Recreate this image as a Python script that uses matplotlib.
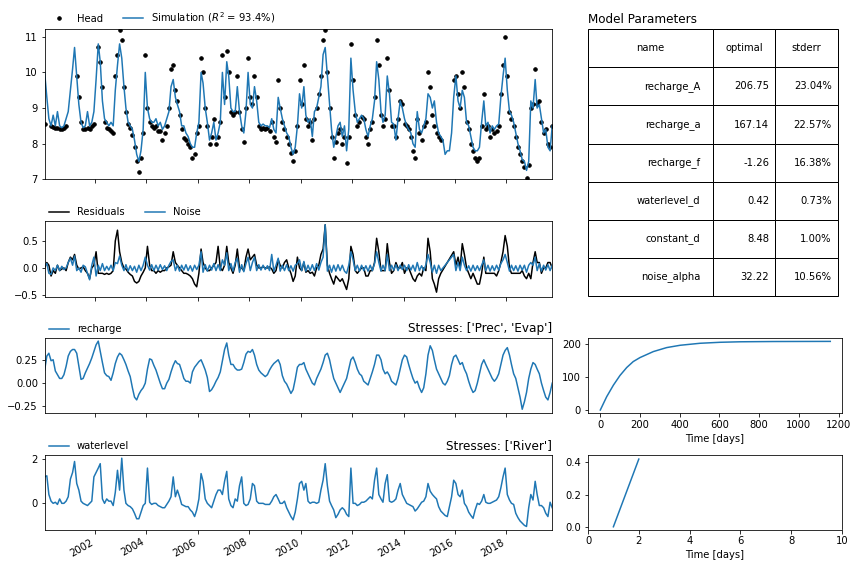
import numpy as np
import pandas as pd
import matplotlib
matplotlib.use("Agg")
import matplotlib.pyplot as plt
import matplotlib.dates as mdates

nan = np.nan

# monthly readings, Jan 2000 .. Oct 2019
dates = pd.date_range("2000-01-01", periods=238, freq="MS") + pd.Timedelta(days=14)

head = [
    8.55, nan, nan, 8.5, 8.48, 8.45, 8.45, 8.42, 8.4, 8.45, 8.5, nan,
    nan, nan, nan, 9.9, 9.3, 8.6, 8.4, 8.4, 8.45, 8.4, 8.5, 8.55,
    nan, 10.7, 10.3, 9.6, 8.6, 8.45, 8.4, 8.35, 8.3, 9.9, 10.5, 11.2,
    10.9, 9.6, 8.9, 8.55, 8.45, 8.25, 7.9, 7.5, 7.2, 7.6, 8.3, 10.5,
    9.0, 8.6, 8.5, 8.45, 8.5, 8.35, 8.35, 8.1, 8.3, 8.5, 9.0, 10.1,
    10.2, 9.5, 9.2, 8.8, 8.4, 8.15, 8.1, 8.0, 7.9, 7.6, 7.7, 8.3,
    8.5, 10.4, 10.0, 9.0, 8.5, 8.0, 8.2, 8.7, 8.0, 8.2, 8.6, 10.5,
    9.3, 10.6, 10.0, 8.9, 8.8, 8.9, 9.9, 8.9, 8.4, 8.05, 9.0, 10.4,
    9.3, 9.1, 9.9, 9.3, 8.5, 8.4, 8.45, 8.4, 8.45, 8.35, 8.6, 8.2,
    8.05, 9.8, 9.0, 8.6, 8.4, 8.2, 8.0, 7.75, 7.5, 7.8, 8.5, 9.8,
    9.1, 10.2, 8.7, 8.5, 8.6, 8.1, 8.7, 9.0, 9.4, 9.9, 10.9, 11.2,
    10.0, 9.0, 8.2, 7.6, 8.05, 8.3, 8.4, 8.0, 8.2, 7.45, 8.2, 10.8,
    9.8, 8.8, 8.5, 8.6, 8.75, 8.7, 8.2, 8.0, 8.4, 8.6, 9.3, 10.9,
    10.2, 8.8, 8.5, 8.7, 10.4, 9.5, 8.5, 8.5, 8.2, 8.7, 9.2, 9.1,
    8.55, 8.5, 8.4, 8.2, 7.8, 7.6, 8.7, 8.3, 8.1, 8.5, 8.6, 10.0,
    9.6, 8.8, 8.5, 8.3, 8.2, 8.1, nan, nan, nan, nan, nan, 9.8,
    9.9, 9.4, 9.0, 10.0, 9.6, 8.6, 8.4, 8.0, 7.8, 7.6, 7.5, 7.6,
    8.5, 9.4, 8.4, 8.5, 8.2, 8.4, 8.3, 8.35, 8.5, 9.4, 10.2, 11.0,
    9.9, 8.9, 8.7, 8.5, 8.2, 7.9, 7.7, 7.5, 7.35, 7.05, 7.4, 9.0,
    9.1, 10.1, 9.1, 9.2, 8.6, 8.3, 8.4, 8.0, 7.9, 8.5,
]

simulation = [
    10.0, 9.3, 8.7, 8.5, 8.8, 8.5, 8.9, 8.5, 8.45, 8.5, 8.7, 8.9,
    9.5, 10.1, 10.7, 9.9, 9.1, 8.6, 8.45, 8.5, 8.9, 8.5, 8.6, 8.9,
    9.8, 10.8, 10.3, 9.2, 8.7, 8.6, 8.5, 8.6, 8.5, 9.5, 10.2, 10.8,
    10.4, 9.6, 9.0, 8.6, 8.5, 8.4, 8.1, 7.7, 7.5, 7.8, 8.4, 10.0,
    9.0, 8.7, 8.6, 8.6, 8.7, 8.5, 8.6, 8.4, 8.5, 8.7, 8.9, 9.6,
    9.8, 9.3, 9.1, 8.9, 8.5, 8.5, 8.3, 8.2, 8.0, 7.9, 7.9, 8.3,
    8.6, 10.0, 9.7, 9.0, 8.6, 8.1, 8.3, 8.6, 8.1, 8.3, 8.6, 10.0,
    9.1, 10.3, 9.9, 9.0, 8.9, 8.9, 9.6, 8.9, 8.5, 8.3, 8.9, 10.0,
    9.1, 9.0, 9.6, 9.2, 8.6, 8.5, 8.55, 8.5, 8.5, 8.45, 8.7, 8.4,
    8.3, 9.3, 9.0, 8.7, 8.5, 8.3, 8.2, 7.9, 7.7, 7.9, 8.5, 9.4,
    9.0, 9.6, 8.8, 8.6, 8.7, 8.2, 8.9, 9.0, 9.3, 9.6, 10.5, 10.7,
    9.9, 9.1, 8.4, 7.9, 8.2, 8.5, 8.6, 8.2, 8.5, 7.8, 8.4, 10.4,
    9.5, 8.9, 8.6, 8.7, 8.8, 8.7, 8.4, 8.2, 8.5, 8.7, 9.2, 10.3,
    9.8, 8.9, 8.6, 8.8, 9.9, 9.4, 8.6, 8.55, 8.1, 8.7, 9.2, 9.0,
    8.7, 8.5, 8.4, 8.3, 8.0, 7.9, 8.9, 8.4, 8.3, 8.5, 8.7, 9.4,
    9.3, 9.0, 9.2, 8.6, 8.3, 8.2, 8.1, 7.7, 7.8, 7.8, 8.3, 9.3,
    9.9, 9.2, 9.0, 9.5, 9.3, 8.6, 8.5, 8.2, 7.9, 7.8, 7.8, 7.9,
    8.6, 9.2, 8.5, 8.6, 8.3, 8.5, 8.4, 8.5, 8.55, 9.3, 9.9, 10.4,
    9.5, 8.9, 8.8, 8.6, 8.3, 8.0, 7.8, 7.55, 7.5, 7.25, 7.5, 9.2,
    9.0, 9.8, 9.0, 9.1, 8.7, 8.3, 8.4, 7.9, 7.8, 8.5,
]

residuals = [
    0.0, 0.1, 0.05, -0.15, -0.05, -0.1, 0.05, -0.05, -0.02, 0.0, -0.05, 0.1,
    0.2, 0.15, 0.25, 0.05, -0.02, 0.0, 0.02, -0.05, -0.1, -0.2, 0.0, 0.05,
    0.3, -0.1, -0.1, -0.1, -0.12, -0.1, -0.12, -0.1, -0.05, 0.5, 0.7, 0.3,
    0.1, 0.0, -0.02, -0.08, -0.12, -0.15, -0.25, -0.28, -0.25, -0.15, -0.08, 0.0,
    0.4, 0.05, -0.05, -0.05, -0.1, -0.05, -0.08, -0.05, -0.05, 0.0, 0.02, 0.05,
    0.3, 0.1, 0.05, 0.0, -0.05, -0.1, -0.1, -0.12, -0.15, -0.2, -0.3, -0.35,
    -0.1, 0.35, 0.1, 0.0, -0.05, -0.05, 0.0, 0.05, 0.1, 0.4, 0.0, -0.05,
    0.05, 0.4, 0.1, 0.0, -0.1, 0.05, 0.35, 0.0, 0.0, -0.05, 0.2, 0.35,
    0.15, 0.2, 0.25, 0.05, 0.0, 0.0, 0.02, 0.0, 0.0, 0.02, -0.02, -0.1,
    -0.05, 0.15, 0.05, 0.0, 0.1, 0.15, 0.0, -0.1, -0.25, -0.15, 0.2, 0.0,
    -0.05, 0.1, -0.08, -0.05, -0.1, -0.08, -0.15, 0.0, 0.05, 0.25, 0.35, 0.8,
    0.05, -0.1, -0.2, -0.3, -0.15, -0.2, -0.25, -0.2, -0.3, -0.4, -0.2, 0.4,
    0.25, -0.05, -0.1, -0.05, 0.0, 0.0, -0.15, -0.15, -0.05, -0.05, 0.1, 0.55,
    0.3, -0.05, -0.05, -0.05, 0.45, 0.1, -0.1, -0.05, 0.1, 0.0, 0.0, 0.1,
    -0.1, 0.0, 0.0, -0.1, -0.2, -0.25, -0.15, -0.1, -0.15, 0.0, -0.05, 0.55,
    0.3, -0.2, -0.3, -0.45, -0.2, -0.1, nan, nan, nan, nan, nan, 0.3,
    0.05, 0.2, 0.0, 0.45, 0.25, 0.0, -0.1, -0.2, -0.1, -0.2, -0.3, -0.3,
    -0.1, 0.2, -0.1, -0.1, -0.1, -0.1, -0.1, -0.15, -0.05, 0.1, 0.3, 0.6,
    0.4, 0.0, -0.1, -0.1, -0.1, -0.1, -0.1, -0.05, -0.15, -0.2, -0.1, -0.2,
    0.1, 0.3, 0.1, 0.1, -0.1, 0.0, 0.0, 0.1, 0.1, 0.0,
]

noise = [
    0.05, 0.08, -0.1, -0.12, 0.0, -0.05, 0.05, -0.05, 0.03, -0.03, 0.0, 0.1,
    0.18, 0.05, 0.22, -0.05, 0.0, -0.08, 0.05, 0.02, -0.1, -0.22, 0.05, 0.2,
    -0.15, 0.05, -0.05, 0.08, -0.05, 0.03, -0.04, 0.05, -0.05, 0.1, 0.08, 0.22,
    0.05, -0.05, 0.06, -0.06, 0.04, -0.05, 0.03, -0.08, 0.05, -0.05, 0.05, 0.2,
    0.05, -0.04, 0.06, -0.05, 0.05, -0.04, 0.06, -0.03, 0.04, -0.05, 0.05, 0.12,
    0.15, -0.05, 0.05, -0.06, 0.05, -0.04, 0.06, -0.05, 0.04, -0.06, 0.05, -0.03,
    0.05, 0.3, -0.08, 0.06, -0.06, 0.05, -0.04, 0.08, -0.05, 0.06, -0.05, 0.15,
    0.05, 0.28, -0.05, 0.08, -0.06, 0.1, 0.18, -0.08, 0.06, -0.07, 0.08, 0.2,
    -0.05, 0.1, 0.2, -0.05, 0.06, -0.04, 0.05, -0.03, 0.04, -0.05, 0.25, -0.06,
    0.05, 0.18, -0.06, 0.05, -0.05, 0.06, -0.05, 0.04, -0.06, 0.05, 0.08, 0.15,
    -0.05, 0.12, -0.06, 0.05, -0.05, 0.06, -0.05, 0.08, -0.04, 0.1, 0.2, 0.8,
    -0.06, 0.05, -0.08, 0.05, -0.06, 0.06, -0.05, 0.05, -0.06, -0.1, 0.05, 0.3,
    0.15, -0.05, 0.05, -0.06, 0.05, -0.05, 0.04, -0.06, 0.05, -0.05, 0.08, 0.3,
    0.1, -0.06, 0.05, -0.05, 0.25, -0.05, 0.05, -0.04, 0.06, -0.05, 0.05, -0.03,
    0.05, -0.05, 0.06, -0.04, 0.05, -0.06, 0.1, -0.05, 0.04, -0.05, 0.06, 0.25,
    0.1, -0.08, 0.05, -0.1, 0.05, -0.05, nan, nan, nan, nan, nan, 0.25,
    -0.05, 0.1, -0.05, 0.2, 0.05, -0.05, 0.04, -0.06, 0.05, -0.05, 0.04, -0.05,
    0.05, 0.15, -0.05, 0.05, -0.06, 0.04, -0.05, 0.05, -0.04, 0.08, 0.15, 0.25,
    0.1, -0.06, 0.05, -0.05, 0.04, -0.06, 0.05, -0.04, 0.05, -0.08, 0.05, 0.1,
    0.05, 0.2, -0.05, 0.08, -0.06, 0.05, -0.04, 0.06, -0.05, 0.05,
]

recharge = [
    0.14, 0.29, 0.32, 0.24, 0.25, 0.13, 0.09, 0.05, 0.05, 0.09, 0.18, 0.29,
    0.34, 0.36, 0.36, 0.32, 0.18, 0.04, 0.05, 0.11, 0.16, 0.21, 0.27, 0.34,
    0.41, 0.45, 0.34, 0.22, 0.11, 0.08, 0.07, 0.03, 0.11, 0.21, 0.28, 0.32,
    0.30, 0.25, 0.20, 0.13, 0.07, -0.05, -0.15, -0.18, -0.12, -0.08, -0.05, 0.0,
    0.15, 0.26, 0.25, 0.19, 0.14, 0.07, 0.0, -0.06, -0.06, 0.0, 0.04, 0.12,
    0.19, 0.24, 0.21, 0.20, 0.13, 0.05, 0.02, 0.02, 0.0, 0.12, 0.17, 0.20,
    0.23, 0.25, 0.20, 0.14, 0.06, -0.09, -0.07, -0.03, 0.02, 0.06, 0.12, 0.24,
    0.36, 0.43, 0.30, 0.20, 0.20, 0.16, 0.14, 0.14, 0.15, 0.22, 0.31, 0.34,
    0.33, 0.36, 0.30, 0.20, 0.14, 0.11, 0.09, 0.07, 0.09, 0.14, 0.18, 0.21,
    0.23, 0.25, 0.20, 0.08, 0.02, -0.01, -0.06, -0.11, -0.07, 0.04, 0.17, 0.20,
    0.2, 0.22, 0.15, 0.1, 0.05, 0.0, -0.02, 0.05, 0.1, 0.15, 0.22, 0.3,
    0.32, 0.25, 0.15, 0.05, 0.0, -0.05, -0.1, -0.05, 0.0, 0.05, 0.15, 0.25,
    0.28, 0.22, 0.15, 0.1, 0.08, 0.02, 0.0, -0.02, 0.05, 0.12, 0.2, 0.3,
    0.3, 0.25, 0.15, 0.1, 0.12, 0.08, 0.02, 0.0, -0.02, 0.05, 0.15, 0.25,
    0.3, 0.28, 0.2, 0.12, 0.05, 0.0, 0.02, -0.05, -0.1, -0.05, 0.1, 0.3,
    0.4, 0.35, 0.25, 0.15, 0.1, 0.05, 0.0, -0.02, 0.02, 0.08, 0.2, 0.28,
    0.3, 0.25, 0.2, 0.22, 0.15, 0.1, 0.02, -0.05, -0.1, -0.08, 0.0, 0.1,
    0.2, 0.25, 0.2, 0.15, 0.1, 0.05, 0.02, 0.05, 0.1, 0.2, 0.3, 0.35,
    0.38, 0.3, 0.2, 0.1, 0.05, -0.05, -0.15, -0.28, -0.2, -0.1, 0.05, 0.15,
    0.22, 0.2, 0.15, 0.1, 0.0, -0.08, -0.15, -0.18, -0.1, 0.0,
]

waterlevel = [
    1.2, 1.25, 0.4, 0.1, 0.0, 0.05, -0.05, 0.2, 0.0, 0.0, 0.1, 0.3,
    1.1, 1.4, 1.9, 0.9, 0.6, 0.1, 0.0, -0.05, -0.1, 0.0, 0.1, 1.2,
    1.4, 1.6, 1.8, 0.2, 0.0, 0.2, 0.1, 0.1, -0.1, 0.5, 1.5, 0.6,
    2.05, 0.6, 0.0, -0.1, -0.15, -0.25, -0.45, -0.7, -0.7, -0.4, -0.1, 0.0,
    1.6, 0.05, -0.05, 0.0, 0.0, -0.1, -0.15, -0.2, -0.2, -0.05, 0.1, 0.3,
    1.2, 0.3, 0.6, 0.3, -0.05, -0.1, -0.15, -0.15, -0.3, -0.4, -0.6, -0.3,
    0.2, 1.35, 1.0, 0.2, 0.0, -0.1, -0.2, 0.1, 0.4, 0.6, 0.6, 0.4,
    1.0, 1.45, 0.2, -0.1, -0.2, 0.2, 0.1, 0.8, 1.2, 0.0, -0.1, -0.05,
    0.2, 0.9, 0.8, 0.1, 0.0, 0.0, 0.0, -0.05, -0.05, -0.05, 0.1, 0.3,
    0.4, 0.2, 0.0, 0.0, 0.1, -0.2, -0.4, -0.6, -0.75, -0.4, 0.2, 0.9,
    1.0, 0.6, 0.9, 0.1, 0.0, 0.05, 0.05, 0.0, 0.05, 0.6, 1.05, 1.8,
    0.8, 0.1, -0.1, -0.3, -0.65, -0.5, -0.3, -0.2, -0.3, -0.5, -0.6, 1.6,
    0.0, 0.0, -0.1, -0.05, 0.05, 0.05, 0.1, 0.2, 0.3, 0.2, 1.05, 1.6,
    0.4, 0.2, 0.05, 0.9, 1.3, 0.1, 0.05, 0.1, 0.2, 0.6, 0.9, 0.4,
    0.2, 0.0, -0.05, -0.1, -0.15, -0.35, -0.25, -0.1, 0.05, 0.1, 0.3, 0.9,
    0.55, 0.4, 0.3, 0.2, -0.15, -0.35, -0.45, -0.55, -0.6, -0.15, 0.3, 1.05,
    0.9, 0.4, 0.3, 0.6, 0.0, -0.15, -0.4, -0.55, -0.68, -0.3, 0.0, -0.05,
    0.1, 0.4, 0.05, 0.0, 0.0, 0.05, 0.1, 0.15, 0.3, 0.7, 1.2, 1.6,
    0.4, 0.15, 0.0, -0.05, -0.45, -0.65, -0.8, -0.9, -1.0, -1.05, -0.2, 0.4,
    0.15, 1.0, 0.4, -0.1, -0.1, -0.2, -0.45, -0.6, 0.05, -0.2,
]

# step responses
rch_days = [0, 32, 66, 99, 133, 166, 200, 267, 334, 402, 502, 603, 704, 872, 1158]
rch_step = [0, 40, 75, 104, 128, 146, 158, 176, 188, 195, 201, 204, 205.5, 206.3, 206.7]
riv_days = [1, 2]
riv_step = [0.0, 0.42]

par_names = ["recharge_A", "recharge_a", "recharge_f", "waterlevel_d", "constant_d", "noise_alpha"]
par_optimal = ["206.75", "167.14", "-1.26", "0.42", "8.48", "32.22"]
par_stderr = ["23.04%", "22.57%", "16.38%", "0.73%", "1.00%", "10.56%"]

W, H = 859, 568
fig = plt.figure(figsize=(W / 72, H / 72), dpi=72)


def box(x0, y0, x1, y1):
    # pixel box -> figure fraction
    return [x0 / W, 1 - y1 / H, (x1 - x0) / W, (y1 - y0) / H]


ax1 = fig.add_axes(box(45, 29.3, 552, 179.3))
ax2 = fig.add_axes(box(45, 221, 552, 296.5), sharex=ax1)
ax3 = fig.add_axes(box(45, 338.3, 552, 413), sharex=ax1)
ax4 = fig.add_axes(box(45, 455.3, 552, 530), sharex=ax1)
axt = fig.add_axes(box(588, 29.3, 838, 296))
ax5 = fig.add_axes(box(588, 338.3, 842, 413))
ax6 = fig.add_axes(box(588, 455.3, 842, 529.5))

head_s = pd.Series(head, index=dates)
sim_s = pd.Series(simulation, index=dates)
res_s = pd.Series(residuals, index=dates).dropna()
noi_s = pd.Series(noise, index=dates).dropna()

ax1.plot(head_s.index, head_s.values, ".", color="k", ms=7, label="Head")
ax1.plot(sim_s.index, sim_s.values, color="C0", label="Simulation ($R^2$ = 93.4%)")
ax1.set_ylim(7.0, 11.21)
ax1.set_yticks([7, 8, 9, 10, 11])
ax1.legend(loc=(0, 1), ncol=3, frameon=False)

ax2.plot(res_s.index, res_s.values, color="k", label="Residuals")
ax2.plot(noi_s.index, noi_s.values, color="C0", label="Noise")
ax2.set_ylim(-0.53, 0.87)
ax2.set_yticks([-0.5, 0.0, 0.5])
ax2.legend(loc=(0, 1), ncol=3, frameon=False)

ax3.plot(dates, recharge, color="C0", label="recharge")
ax3.set_ylim(-0.32, 0.48)
ax3.set_yticks([-0.25, 0.0, 0.25])
ax3.legend(loc=(0, 1), ncol=3, frameon=False)
ax3.set_title("Stresses: ['Prec', 'Evap']", loc="right")

ax4.plot(dates, waterlevel, color="C0", label="waterlevel")
ax4.set_ylim(-1.21, 2.18)
ax4.set_yticks([0, 2])
ax4.legend(loc=(0, 1), ncol=3, frameon=False)
ax4.set_title("Stresses: ['River']", loc="right")

ax1.set_xlim(pd.Timestamp("2000-01-20"), pd.Timestamp("2019-10-12"))
ax4.xaxis.set_major_locator(mdates.YearLocator(2))
ax4.xaxis.set_major_formatter(mdates.DateFormatter("%Y"))
for a in (ax1, ax2, ax3):
    plt.setp(a.get_xticklabels(), visible=False)
for lbl in ax4.get_xticklabels():
    lbl.set_rotation(30)
    lbl.set_ha("right")

ax5.plot(rch_days, rch_step, color="C0")
ax5.set_xlim(-62, 1217)
ax5.set_ylim(-9, 216)
ax5.set_xticks(range(0, 1201, 200))
ax5.set_yticks([0, 100, 200])
ax5.set_xlabel("Time [days]")

ax6.plot(riv_days, riv_step, color="C0")
ax6.set_xlim(0, 10)
ax6.set_ylim(-0.017, 0.4435)
ax6.set_yticks([0.0, 0.2, 0.4])
ax6.set_xlabel("Time [days]")

axt.axis("off")
cells = [[n, o, s] for n, o, s in zip(par_names, par_optimal, par_stderr)]
axt.table(cellText=cells, colLabels=["name", "optimal", "stderr"],
          colWidths=[0.5, 0.25, 0.25], bbox=(0, 0, 1, 1))
axt.set_title("Model Parameters", loc="left")

fig.savefig("out.png", dpi=72)
